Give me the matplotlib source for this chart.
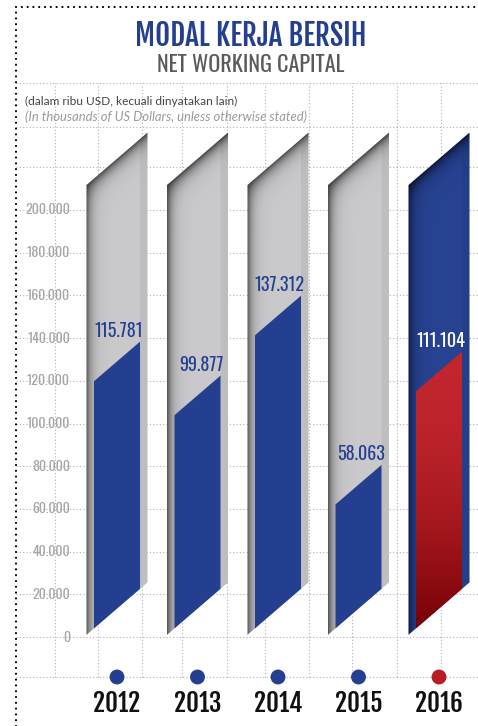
"""Net working capital infographic: slanted 3D-style columns per year."""

import matplotlib
matplotlib.use("Agg")
import matplotlib.pyplot as plt
import numpy as np
from matplotlib.lines import Line2D
from matplotlib.patches import Polygon

# --- data ---------------------------------------------------------------
years = ["2012", "2013", "2014", "2015", "2016"]
values = [115781, 99877, 137312, 58063, 111104]
value_labels = ["115.781", "99.877", "137.312", "58.063", "111.104"]
tick_values = [0, 20000, 40000, 60000, 80000, 100000, 120000, 140000,
               160000, 180000, 200000]
tick_labels = ["0", "20.000", "40.000", "60.000", "80.000", "100.000",
               "120.000", "140.000", "160.000", "180.000", "200.000"]
highlight_year = "2016"

# --- look ---------------------------------------------------------------
W, H = 478, 726
PX = 200000 / 427          # data units per pixel (vertical)
ZERO_PX = 637              # pixel row of value 0
X0_PX, XUNIT = 117, 80.5   # pixel column of first category, pixels per category
SLANT = 0.86 * XUNIT * PX  # rise of slanted edges per category unit
HALF_OUT, HALF_IN = 0.379, 0.286
BASE_Y = 1000              # bottom-left corner of each column
COL_TOP = 211700           # top-left corner of each column

BLUE = "#243f8f"
RED_DOT = "#b81c24"
GRID = "#b0b0b0"

HEAVY = ["Fjalla One", "Oswald", "DejaVu Sans"]
NARROW = ["Oswald", "DejaVu Sans"]
BODY = ["Lato", "DejaVu Sans"]


def px_x(px):
    return (px - X0_PX) / XUNIT


def px_y(py):
    return (ZERO_PX - py) * PX


def shade_column(ax, c, base, dark):
    xl, xr = c - HALF_OUT, c + HALF_OUT
    bottom = lambda x: BASE_Y + SLANT * (x - xl)
    top = lambda x: COL_TOP + SLANT * (x - xl)
    poly = Polygon([(xl, bottom(xl)), (xr, bottom(xr)), (xr, top(xr)), (xl, top(xl))],
                   closed=True, transform=ax.transData, facecolor="none", edgecolor="none")
    ax.add_patch(poly)
    nx, ny = 80, 500
    xs = np.linspace(xl, xr, nx)
    ys = np.linspace(bottom(xl), top(xr), ny)
    gx, gy = np.meshgrid(xs, ys)
    d_left = (gx - xl) * XUNIT
    d_top = np.clip((top(gx) - gy) / PX, 0, None)
    f_left = 0.8 * np.exp(-d_left / 5.0)
    f_top = 0.92 * np.exp(-d_top / 8.0)
    f = 1 - (1 - f_left) * (1 - f_top)
    img = (np.array(base)[None, None, :] * (1 - f[..., None])
           + np.array(dark)[None, None, :] * f[..., None])
    im = ax.imshow(img, extent=(xl, xr, ys[0], ys[-1]), origin="lower",
                   aspect="auto", interpolation="bilinear", zorder=2)
    im.set_clip_path(poly)
    # right side strip
    ax.add_patch(Polygon([(c + HALF_IN, bottom(c + HALF_IN)), (xr, bottom(xr)),
                          (xr, top(xr)), (c + HALF_IN, top(c + HALF_IN))],
                         closed=True, facecolor="black", alpha=0.05,
                         edgecolor="none", zorder=3))
    return bottom


def draw_face(ax, c, value, bottom, red=False):
    fl, fr = c - HALF_IN, c + HALF_IN
    pts = [(fl, bottom(fl)), (fr, bottom(fr)),
           (fr, bottom(fr) + value), (fl, bottom(fl) + value)]
    if not red:
        ax.add_patch(Polygon(pts, closed=True, facecolor=BLUE, edgecolor="none", zorder=4))
    else:
        poly = Polygon(pts, closed=True, transform=ax.transData,
                       facecolor="none", edgecolor="none")
        ax.add_patch(poly)
        y0, y1 = bottom(fl), bottom(fr) + value
        t = np.linspace(0, 1, 300)[:, None]
        w = (1 - t) ** 2
        top_c = np.array([0.76, 0.15, 0.18])
        bot_c = np.array([0.46, 0.0, 0.02])
        img = top_c * (1 - w) + bot_c * w
        img = np.repeat(img[:, None, :], 2, axis=1)
        im = ax.imshow(img, extent=(fl, fr, y0, y1), origin="lower",
                       aspect="auto", zorder=4)
        im.set_clip_path(poly)
    return fr, bottom(fr) + value


fig = plt.figure(figsize=(W / 100, H / 100), dpi=100)
ax = fig.add_axes([0, 0, 1, 1])
ax.axis("off")

# dotted grid
dot = dict(color=GRID, lw=0.8, ls=(0, (1, 2)), zorder=1)
for v in tick_values + [220000]:
    ax.plot([px_x(16), px_x(W)], [v, v], **dot)
for py in (83, 127, 677):
    ax.plot([px_x(16), px_x(W)], [px_y(py)] * 2, **dot)
for vx in (55, 98, 142, 182, 227, 265, 309, 352, 397, 441):
    ax.plot([px_x(vx)] * 2, [px_y(677), px_y(83)], **dot)

# axis labels
for v, lab in zip(tick_values, tick_labels):
    ax.text(px_x(70), v, lab, ha="right", va="center", fontsize=10,
            color="#a6a6a6", family=NARROW, zorder=1)

# columns
for i, (yr, val, lab) in enumerate(zip(years, values, value_labels)):
    hot = yr == highlight_year
    if hot:
        bottom = shade_column(ax, i, (0.15, 0.26, 0.57), (0.04, 0.06, 0.18))
    else:
        bottom = shade_column(ax, i, (0.79, 0.79, 0.80), (0.22, 0.22, 0.22))
    cx, cy = draw_face(ax, i, val, bottom, red=hot)
    ax.annotate(lab, (cx, cy), xytext=(2.5, 3.5), textcoords="offset points",
                ha="right", va="baseline", fontsize=13,
                color="white" if hot else BLUE, family=NARROW, zorder=6)
    ax.scatter([i], [px_y(677)], s=115, color=RED_DOT if hot else BLUE,
               edgecolors="none", zorder=5)
    ax.text(i, px_y(704), yr, ha="center", va="center", fontsize=18,
            color="#111111", family=HEAVY, zorder=5)

# frame of thick dots on the left and top
border = dict(color="black", lw=1.6, ls=(0, (0.01, 2.6)), solid_capstyle="round",
              dash_capstyle="round", transform=fig.transFigure)
fig.add_artist(Line2D([16 / W, 16 / W], [0, 1 - 7 / H], **border))
fig.add_artist(Line2D([16 / W, 1], [1 - 7 / H, 1 - 7 / H], **border))

# headings
fig.text(251 / W, 1 - 36 / H, "MODAL KERJA BERSIH", ha="center", va="center",
         fontsize=21, color=BLUE, family=HEAVY)
fig.text(251 / W, 1 - 65 / H, "NET WORKING CAPITAL", ha="center", va="center",
         fontsize=16, color="#5a5a5a", family=NARROW)
fig.text(25 / W, 1 - 101 / H, "(dalam ribu USD, kecuali dinyatakan lain)",
         ha="left", va="center", fontsize=8.6, color="#444444", family=BODY)
fig.text(25 / W, 1 - 117 / H, "(In thousands of US Dollars, unless otherwise stated)",
         ha="left", va="center", fontsize=9.4, color="#9a9a9a", style="italic",
         family=BODY)

ax.set_xlim(px_x(0), px_x(W))
ax.set_ylim(px_y(H), px_y(0))

fig.savefig("out.png", dpi=100, facecolor="white")
